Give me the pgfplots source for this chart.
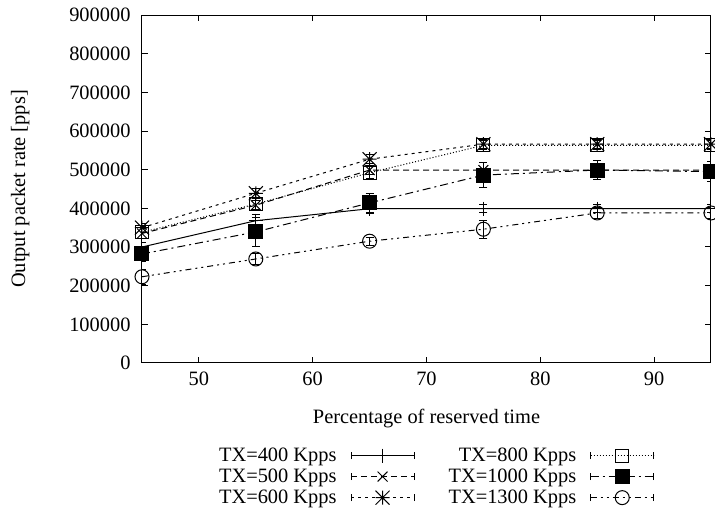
\documentclass[border=0pt]{standalone}
\usepackage{fontspec}
\setmainfont{Liberation Serif}
\usepackage{pgfplots}
\pgfplotsset{compat=1.18}
\pgfdeclareplotmark{gpstar}{%
 \pgfpathmoveto{\pgfqpoint{-\pgfplotmarksize}{0pt}}\pgfpathlineto{\pgfqpoint{\pgfplotmarksize}{0pt}}%
 \pgfpathmoveto{\pgfqpoint{0pt}{-\pgfplotmarksize}}\pgfpathlineto{\pgfqpoint{0pt}{\pgfplotmarksize}}%
 \pgfpathmoveto{\pgfqpoint{-\pgfplotmarksize}{-\pgfplotmarksize}}\pgfpathlineto{\pgfqpoint{\pgfplotmarksize}{\pgfplotmarksize}}%
 \pgfpathmoveto{\pgfqpoint{-\pgfplotmarksize}{\pgfplotmarksize}}\pgfpathlineto{\pgfqpoint{\pgfplotmarksize}{-\pgfplotmarksize}}%
 \pgfusepathqstroke}
\begin{document}
\begin{tikzpicture}
\begin{axis}[
 scale only axis, width=569pt, height=348pt,
 xmin=45, xmax=95, ymin=0, ymax=900000,
 xtick={50,60,70,80,90},
 ytick={0,100000,200000,300000,400000,500000,600000,700000,800000,900000},
 tick align=inside, major tick length=6pt,
 scaled y ticks=false,
 yticklabel style={xshift=-8pt, /pgf/number format/.cd, fixed, 1000 sep={}},
 /pgf/number format/assume math mode=true,
 font=\fontsize{20.4}{21.2}\selectfont,
 ticklabel style={font=\fontsize{20.4}{21.2}\selectfont},
 xticklabel style={yshift=-5pt},
 xlabel={Percentage of reserved time},
 ylabel={Output packet rate [pps]},
 every axis x label/.style={at={(axis description cs:0.5,-0.16)}, anchor=center},
 every axis y label/.style={at={(axis description cs:-0.214,0.5)}, anchor=center, rotate=90},
 axis line style={line width=1pt},
 every tick/.style={line width=1pt, black},
 every axis plot/.append style={line width=1pt, black, mark options={solid}},
 error bars/y dir=both, error bars/y explicit,
 error bars/error mark options={rotate=90, mark size=4pt, solid, line width=1pt},
 error bars/error bar style={solid, line width=1pt},
 legend columns=2, legend plot pos=right, legend cell align=right,
 legend style={at={(0.517,-0.235)}, anchor=north, draw=none, fill=none,
   font=\fontsize{20.4}{21.2}\selectfont,
   nodes={inner sep=1pt}, row sep=4pt,
   /tikz/every odd column/.append style={column sep=13pt},
   /tikz/every even column/.append style={column sep=33pt}},
 legend image code/.code={
   \draw[#1] (0pt,0pt) -- (63pt,0pt);
   \draw[#1,solid] (0pt,-3.5pt) -- (0pt,3.5pt) (63pt,-3.5pt) -- (63pt,3.5pt);
   \draw[#1,solid] plot coordinates {(31.5pt,0pt)};
 },
]
\addplot[solid, mark=+, mark size=7pt] coordinates {
 (45,300000) +- (0,12000) (55,368000) +- (0,15000) (65,399000) +- (0,12000)
 (75,399000) +- (0,10000) (85,399000) +- (0,10000) (95,399000) +- (0,10000)};
\addlegendentry{TX=400 Kpps}
\addplot[dash pattern=on 1pt off 2pt, mark=square, mark size=6.5pt] coordinates {
 (45,338000) +- (0,15000) (55,411000) +- (0,15000) (65,492000) +- (0,15000)
 (75,563000) +- (0,12000) (85,563000) +- (0,12000) (95,563000) +- (0,12000)};
\addlegendentry{TX=800 Kpps}
\addplot[dash pattern=on 6pt off 4pt, mark=x, mark size=7pt] coordinates {
 (45,335000) +- (0,12000) (55,408000) +- (0,12000) (65,499000) +- (0,12000)
 (75,499000) +- (0,20000) (85,499000) +- (0,12000) (95,499000) +- (0,12000)};
\addlegendentry{TX=500 Kpps}
\addplot[dash pattern=on 8pt off 4pt on 2pt off 4pt, mark=square*, mark size=7pt] coordinates {
 (45,282000) +- (0,20000) (55,339000) +- (0,38000) (65,414000) +- (0,25000)
 (75,486000) +- (0,33000) (85,499000) +- (0,25000) (95,495000) +- (0,25000)};
\addlegendentry{TX=1000 Kpps}
\addplot[dash pattern=on 3pt off 4pt, mark=gpstar, mark size=7pt] coordinates {
 (45,350000) +- (0,12000) (55,439000) +- (0,12000) (65,527000) +- (0,12000)
 (75,566000) +- (0,12000) (85,566000) +- (0,12000) (95,566000) +- (0,12000)};
\addlegendentry{TX=600 Kpps}
\addplot[dash pattern=on 6pt off 4pt on 2pt off 4pt on 2pt off 4pt, mark=o, mark size=7pt] coordinates {
 (45,223000) +- (0,20000) (55,269000) +- (0,15000) (65,315000) +- (0,10000)
 (75,346000) +- (0,23000) (85,388000) +- (0,15000) (95,388000) +- (0,15000)};
\addlegendentry{TX=1300 Kpps}
\end{axis}
\pgfresetboundingbox
\useasboundingbox (-142pt,-150pt) rectangle (573pt,363pt);
\end{tikzpicture}
\end{document}
